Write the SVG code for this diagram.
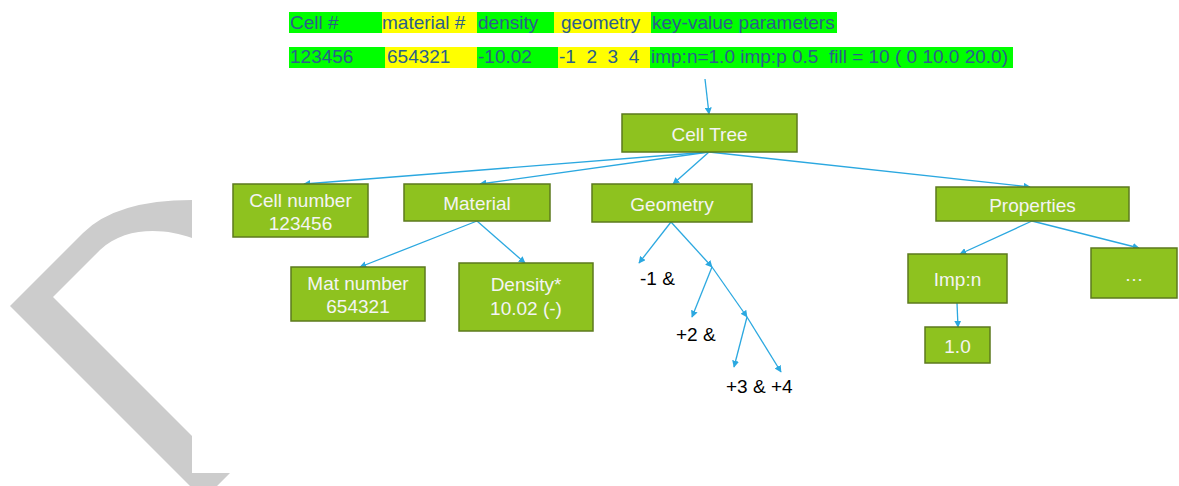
<svg xmlns="http://www.w3.org/2000/svg" width="1179" height="486" viewBox="0 0 1179 486">
<style>
  .tbl { font-family: "Liberation Sans", Arial, sans-serif; font-size: 19px; fill: #2B5E8C; }
  .box { fill: #8EC21F; stroke: #5C7A1E; stroke-width: 1.5; }
  .lbl { font-family: "Liberation Sans", Arial, sans-serif; font-size: 19px; fill: #F4F4F4; text-anchor: middle; }
  .blk { font-family: "Liberation Sans", Arial, sans-serif; font-size: 19px; fill: #000000; }
  .con { stroke: #2BA8E0; stroke-width: 1.3; fill: none; marker-end: url(#ah); }
</style>
<defs>
  <marker id="ah" viewBox="0 0 10 10" refX="9" refY="5" markerWidth="7" markerHeight="7" markerUnits="userSpaceOnUse" orient="auto">
    <path d="M0,0 L10,5 L0,10 z" fill="#2BA8E0"/>
  </marker>
</defs>
<rect width="1179" height="486" fill="#FFFFFF"/>

<!-- decorative gray shape -->
<path d="M192,200 Q116,200 83,233 L10,306 L190,486 L217,486 L230,473 L192,473 L192,436 L53,297 L100,250 C125,226 165,228 192,238 Z" fill="#CCCCCC"/>

<!-- header table -->
<g id="table">
  <rect x="289" y="12" width="93" height="21" fill="#00FF00"/>
  <rect x="382" y="12" width="95" height="21" fill="#FFFF00"/>
  <rect x="477" y="12" width="77" height="21" fill="#00FF00"/>
  <rect x="554" y="12" width="97" height="21" fill="#FFFF00"/>
  <rect x="651" y="12" width="186" height="21" fill="#00FF00"/>
  <rect x="289" y="47" width="96" height="21" fill="#00FF00"/>
  <rect x="385" y="47" width="92" height="21" fill="#FFFF00"/>
  <rect x="477" y="47" width="81" height="21" fill="#00FF00"/>
  <rect x="558" y="47" width="92" height="21" fill="#FFFF00"/>
  <rect x="650" y="47" width="363" height="21" fill="#00FF00"/>
  <text class="tbl" x="290" y="29">Cell #</text>
  <text class="tbl" x="382" y="29">material #</text>
  <text class="tbl" x="478" y="29">density</text>
  <text class="tbl" x="561" y="29">geometry</text>
  <text class="tbl" x="652" y="29">key-value parameters</text>
  <text class="tbl" x="290" y="63">123456</text>
  <text class="tbl" x="387" y="63">654321</text>
  <text class="tbl" x="478" y="63">-10.02</text>
  <text class="tbl" x="559" y="63" xml:space="preserve">-1  2  3  4</text>
  <text class="tbl" x="651" y="63" xml:space="preserve">imp:n=1.0 imp:p 0.5  fill = 10 ( 0 10.0 20.0)</text>
</g>

<!-- connectors -->
<g id="connectors">
  <line class="con" x1="705" y1="79" x2="709" y2="114"/>
  <line class="con" x1="709" y1="152" x2="304" y2="184"/>
  <line class="con" x1="709" y1="152" x2="480" y2="184"/>
  <line class="con" x1="709" y1="152" x2="673" y2="184"/>
  <line class="con" x1="709" y1="152" x2="1030" y2="187"/>
  <line class="con" x1="477" y1="221" x2="360" y2="267"/>
  <line class="con" x1="477" y1="221" x2="525" y2="263"/>
  <line class="con" x1="671" y1="222" x2="639" y2="263"/>
  <line class="con" x1="671" y1="222" x2="712" y2="267"/>
  <line class="con" x1="712" y1="267" x2="692" y2="317"/>
  <line class="con" x1="712" y1="267" x2="747" y2="317"/>
  <line class="con" x1="747" y1="317" x2="734" y2="367"/>
  <line class="con" x1="747" y1="317" x2="781" y2="372"/>
  <line class="con" x1="1032" y1="221" x2="960" y2="254"/>
  <line class="con" x1="1032" y1="221" x2="1139" y2="248"/>
  <line class="con" x1="957" y1="303" x2="958" y2="327"/>
</g>

<g id="celltree">
  <rect class="box" x="622" y="114" width="175" height="38"/>
  <text class="lbl" x="709.5" y="141">Cell Tree</text>
</g>
<g id="cellnumber">
  <rect class="box" x="233" y="184" width="135" height="53"/>
  <text class="lbl" x="300.5" y="207">Cell number</text>
  <text class="lbl" x="300.5" y="230">123456</text>
</g>
<g id="material">
  <rect class="box" x="404" y="184" width="146" height="37"/>
  <text class="lbl" x="477" y="210">Material</text>
</g>
<g id="geometry">
  <rect class="box" x="592" y="184" width="160" height="38"/>
  <text class="lbl" x="672" y="211">Geometry</text>
</g>
<g id="properties">
  <rect class="box" x="936" y="187" width="193" height="34"/>
  <text class="lbl" x="1032.5" y="212">Properties</text>
</g>
<g id="matnumber">
  <rect class="box" x="291" y="267" width="134" height="54"/>
  <text class="lbl" x="358" y="290">Mat number</text>
  <text class="lbl" x="358" y="313">654321</text>
</g>
<g id="density">
  <rect class="box" x="459" y="263" width="134" height="68"/>
  <text class="lbl" x="526" y="291">Density*</text>
  <text class="lbl" x="526" y="315">10.02 (-)</text>
</g>
<g id="impn">
  <rect class="box" x="908" y="254" width="99" height="49"/>
  <text class="lbl" x="957.5" y="286">Imp:n</text>
</g>
<g id="more">
  <rect class="box" x="1091" y="248" width="86" height="50"/>
  <text class="lbl" x="1134" y="281">…</text>
</g>
<g id="val10">
  <rect class="box" x="925" y="327" width="65" height="36"/>
  <text class="lbl" x="957.5" y="353">1.0</text>
</g>

<g id="geomlabels">
  <text class="blk" x="640" y="285">-1 &amp;</text>
  <text class="blk" x="676" y="341">+2 &amp;</text>
  <text class="blk" x="726" y="393">+3 &amp; +4</text>
</g>
</svg>
